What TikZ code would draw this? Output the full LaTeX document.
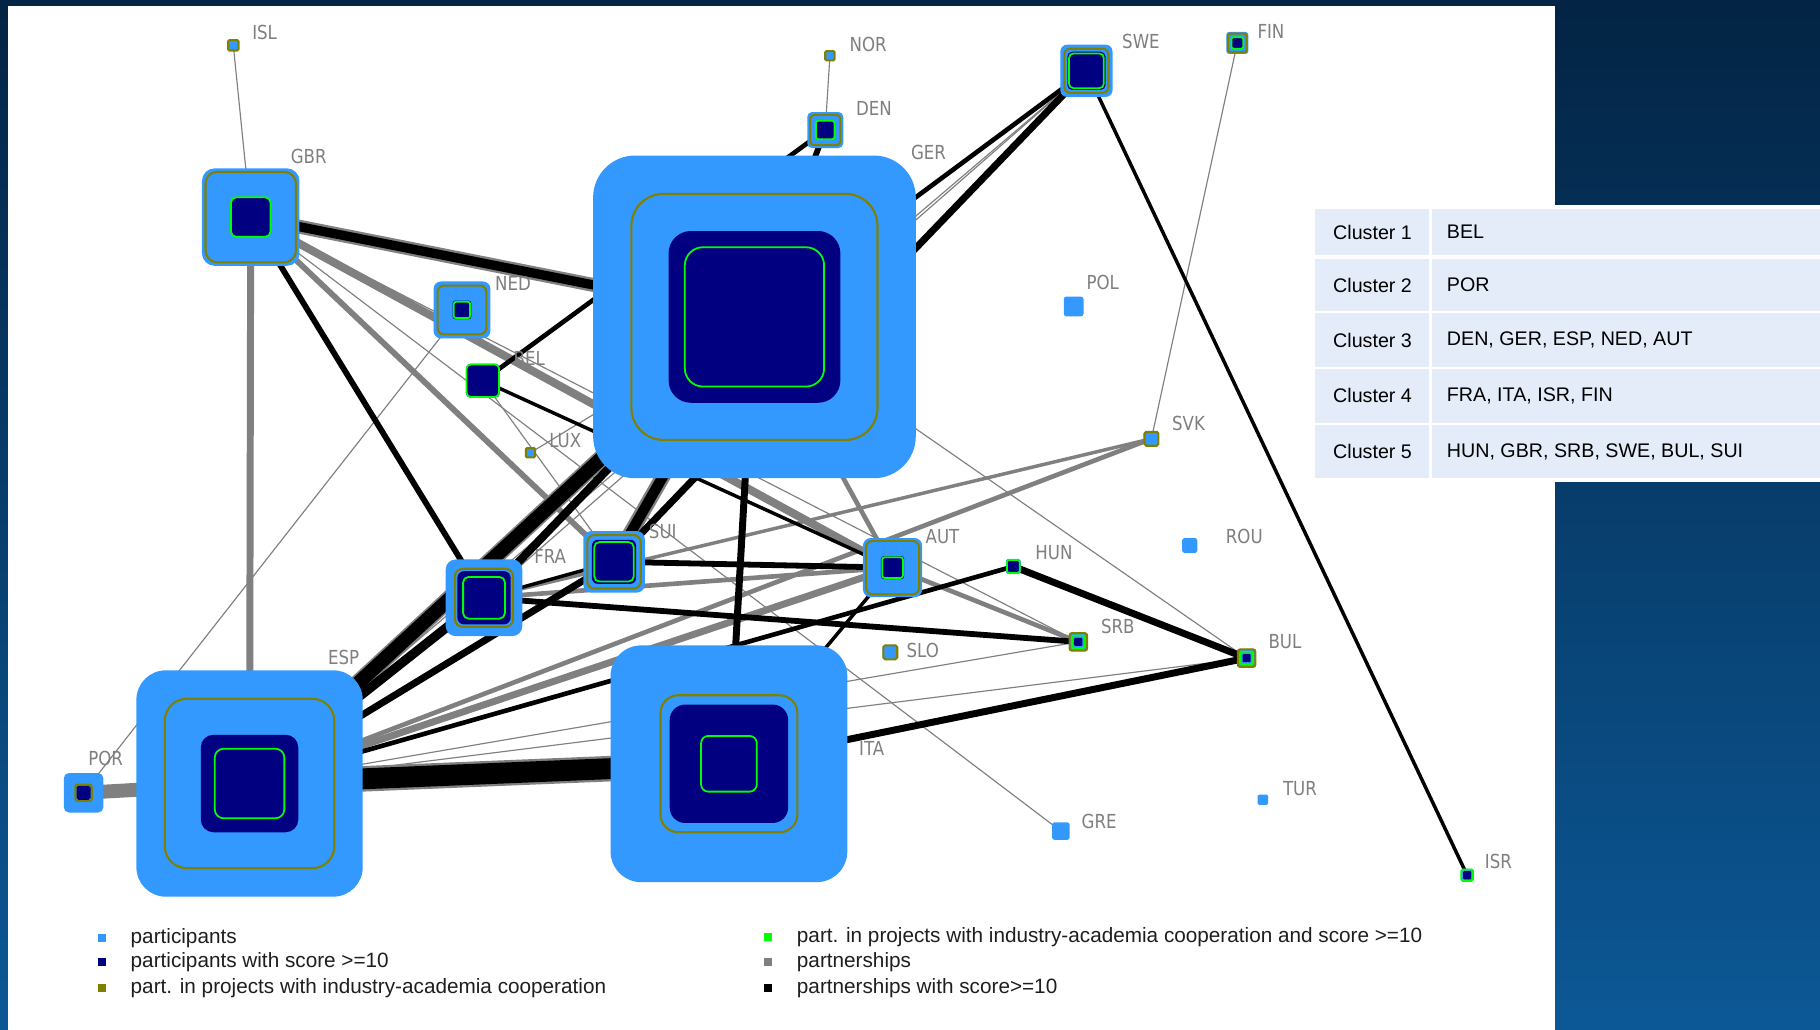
\documentclass[tikz,border=0pt]{standalone}
\usepackage{fontspec}
\setmainfont{Liberation Sans}
\newfontfamily\lblfont[FakeStretch=0.86]{DejaVu Sans}

\definecolor{partblue}{HTML}{3399FF}
\definecolor{scorenavy}{HTML}{000080}
\definecolor{coopolive}{HTML}{808000}
\definecolor{coopgreen}{HTML}{00FF00}
\definecolor{linkgray}{HTML}{808080}
\definecolor{lblgray}{HTML}{7F7F7F}
\definecolor{cellblue}{HTML}{E4ECFA}
\definecolor{frametop}{RGB}{3,36,68}
\definecolor{framebot}{RGB}{12,88,150}

\def\pu{0.011607cm}

\pgfdeclarelayer{bg}
\pgfdeclarelayer{links}
\pgfsetlayers{bg,links,main}

\tikzset{
  sq/.style={rectangle, inner sep=0pt, outer sep=0pt, minimum size=#1*\pu, rounded corners=0.13*#1*\pu},
  part/.style={sq=#1, fill=partblue},
  coop/.style={sq=#1, draw=coopolive, line width=0.6pt},
  hiscore/.style={sq=#1, fill=scorenavy},
  best/.style={sq=#1, draw=coopgreen, line width=0.5pt},
  lbl/.style={font=\lblfont\fontsize{5.5}{6}\selectfont, text=lblgray, inner sep=0pt},
  gp/.style={draw=linkgray, line width=#1*\pu},
  bp/.style={draw=black, line width=#1*\pu},
  tabtext/.style={font=\fontsize{5.6}{7}\selectfont, anchor=west, inner sep=0pt},
  legtext/.style={font=\fontsize{5.9}{7}\selectfont, text={rgb,255:red,30;green,30;blue,30}, anchor=west, inner sep=0pt},
}

% name, position, outer, olive, navy, green
\newcommand\country[6]{%
  \node[part=#3] (#1) at (#2) {};
  \ifnum#4>0 \node[coop=#4] (#1o) at (#1) {};\fi
  \ifnum#5>0 \node[hiscore=#5] (#1n) at (#1) {};\fi
  \ifnum#6>0 \node[best=#6] (#1g) at (#1) {};\fi}

\begin{document}
\begin{tikzpicture}[x=\pu, y=-\pu]
  \useasboundingbox (0,0) rectangle (1568,887);
  \begin{pgfonlayer}{bg}
    \shade[top color=frametop, bottom color=framebot] (0,0) rectangle (1568,887);
    \fill[white] (7,5) rectangle (1340,887);
  \end{pgfonlayer}

  % countries
  \country{ISL}{201,39}{9}{9}{0}{0}
  \country{NOR}{715,48}{8}{8}{0}{0}
  \country{DEN}{711,112}{31}{26}{16}{16}
  \country{SWE}{936,61}{45}{38}{33}{30}
  \country{FIN}{1066,37}{19}{16}{10}{10}
  \country{GBR}{216,187}{84}{78}{34}{34}
  \country{NED}{398,267}{49}{42}{16}{14}
  \country{BEL}{416,328}{29}{0}{29}{28}
  \country{LUX}{457,390}{8}{8}{0}{0}
  \country{GER}{650,273}{278}{212}{148}{120}
  \country{POL}{925,264}{17}{0}{0}{0}
  \country{SVK}{992,378}{13}{12}{0}{0}
  \country{ROU}{1025,470}{13}{0}{0}{0}
  \country{SUI}{529,484}{53}{46}{38}{34}
  \country{FRA}{417,515}{66}{50}{46}{36}
  \country{AUT}{769,489}{51}{46}{20}{18}
  \country{HUN}{873,488}{13}{0}{11}{11}
  \country{SRB}{929,553}{16}{15}{7}{11}
  \country{SLO}{767,562}{13}{12}{0}{0}
  \country{BUL}{1074,567}{16}{15}{7}{11}
  \country{ESP}{215,675}{195}{146}{84}{60}
  \country{ITA}{628,658}{204}{118}{102}{48}
  \country{POR}{72,683}{34}{14}{12}{0}
  \country{GRE}{914,716}{15}{0}{0}{0}
  \country{TUR}{1088,689}{9}{0}{0}{0}
  \country{ISR}{1264,754}{11}{0}{7}{10}

  % partnerships
  \begin{pgfonlayer}{links}
    \foreach \a/\b in {ISL/GBR, NOR/DEN, FIN/SVK, GER/BUL, GBR/GRE, NED/POR,
                       LUX/GER, BEL/SUI, SWE/ESP, SRB/ESP, ESP/BUL, GBR/SRB, SWE/FRA}
      \draw[gp=1] (\a.center) -- (\b.center);
    \draw[gp=6] (GBR.center) -- (ESP.center);
    \draw[gp=7] (GBR.center) -- (AUT.center);
    \draw[gp=5] (GBR.center) -- (SUI.center);
    \draw[gp=12] (GBR.center) -- (GER.center);
    \draw[gp=6] (ESP.center) -- (AUT.center);
    \draw[gp=4] (ESP.center) -- (SVK.center);
    \draw[gp=3] (FRA.center) -- (SVK.center);
    \draw[gp=4] (FRA.center) -- (AUT.center);
    \draw[gp=4] (GER.center) -- (AUT.center);
    \draw[gp=4] (AUT.center) -- (SRB.center);
    \draw[gp=12] (POR.center) -- (ESP.center);
    \draw[gp=22] (ESP.center) -- (ITA.center);
    \draw[gp=13] (SUI.center) -- (GER.center);
    \draw[gp=15] (ESP.center) -- (GER.center);
    % partnerships with score >= 10
    \draw[bp=8] (GBR.center) -- (GER.center);
    \draw[bp=5] (DEN.center) -- (GER.center);
    \draw[bp=4] (SWE.center) -- (GER.center);
    \draw[bp=6] (SWE.center) -- (SUI.center);
    \draw[bp=3] (SWE.center) -- (ISR.center);
    \draw[bp=5] (GBR.center) -- (FRA.center);
    \draw[bp=4] (BEL.center) -- (DEN.center);
    \draw[bp=3] (BEL.center) -- (AUT.center);
    \draw[bp=12] (ESP.center) -- (GER.center);
    \draw[bp=8] (ESP.center) -- (FRA.center);
    \draw[bp=6] (ESP.center) -- (SUI.center);
    \draw[bp=18] (ESP.center) -- (ITA.center);
    \draw[bp=4] (ESP.center) -- (HUN.center);
    \draw[bp=7] (FRA.center) -- (GER.center);
    \draw[bp=5] (FRA.center) -- (SRB.center);
    \draw[bp=3] (FRA.center) -- (SUI.center);
    \draw[bp=9] (SUI.center) -- (GER.center);
    \draw[bp=5] (SUI.center) -- (AUT.center);
    \draw[bp=6] (GER.center) -- (ITA.center);
    \draw[bp=6] (HUN.center) -- (BUL.center);
    \draw[bp=6] (ITA.center) -- (BUL.center);
    \draw[bp=3] (AUT.center) -- (ITA.center);
  \end{pgfonlayer}

  % labels
  \foreach \c/\p in {ISL/{228,28}, NOR/{748,38}, DEN/{753,93}, SWE/{983,36},
                     FIN/{1095,27}, GBR/{266,135}, GER/{800,131}, NED/{442,244},
                     BEL/{456,309}, LUX/{487,380}, POL/{950,243}, SVK/{1024,365},
                     SUI/{571,458}, FRA/{474,479}, AUT/{812,462}, HUN/{908,476},
                     ROU/{1072,462}, SRB/{963,540}, SLO/{795,560}, BUL/{1107,553},
                     ESP/{296,566}, ITA/{751,645}, POR/{91,653}, TUR/{1120,679},
                     GRE/{947,708}, ISR/{1291,742}}
    \node[lbl] (\c l) at (\p) {\c};

  % cluster table
  \fill[white] (1130,177) rectangle (1568,415);
  \foreach \n/\ya/\yb/\members in {1/180/220/{BEL}, 2/223/268/{POR},
                     3/270/316/{DEN, GER, ESP, NED, AUT}, 4/318/364/{FRA, ITA, ISR, FIN},
                     5/366/412/{HUN, GBR, SRB, SWE, BUL, SUI}} {
    \fill[cellblue] (1133,\ya) rectangle (1231,\yb);
    \fill[cellblue] (1234,\ya) rectangle (1568,\yb);
    \node[tabtext] (cl\n) at (1148,{(\ya+\yb)/2}) {Cluster \n};
    \node[tabtext] (mem\n) at (1246,{(\ya+\yb)/2}) {\members};
  }

  % legend
  \foreach \k/\x/\y/\c/\t in {1/88/808/partblue/participants,
                              2/88/829/scorenavy/participants with score >=10,
                              3/88/851/coopolive/part. in projects with industry-academia cooperation,
                              4/662/807/coopgreen/part. in projects with industry-academia cooperation and score >=10,
                              5/662/829/linkgray/partnerships,
                              6/662/851/black/partnerships with score>=10} {
    \fill[\c] (\x-3.5,\y-3.5) rectangle (\x+3.5,\y+3.5);
    \node[legtext] (leg\k) at (\x+24,\y) {\t};
  }
\end{tikzpicture}
\end{document}
